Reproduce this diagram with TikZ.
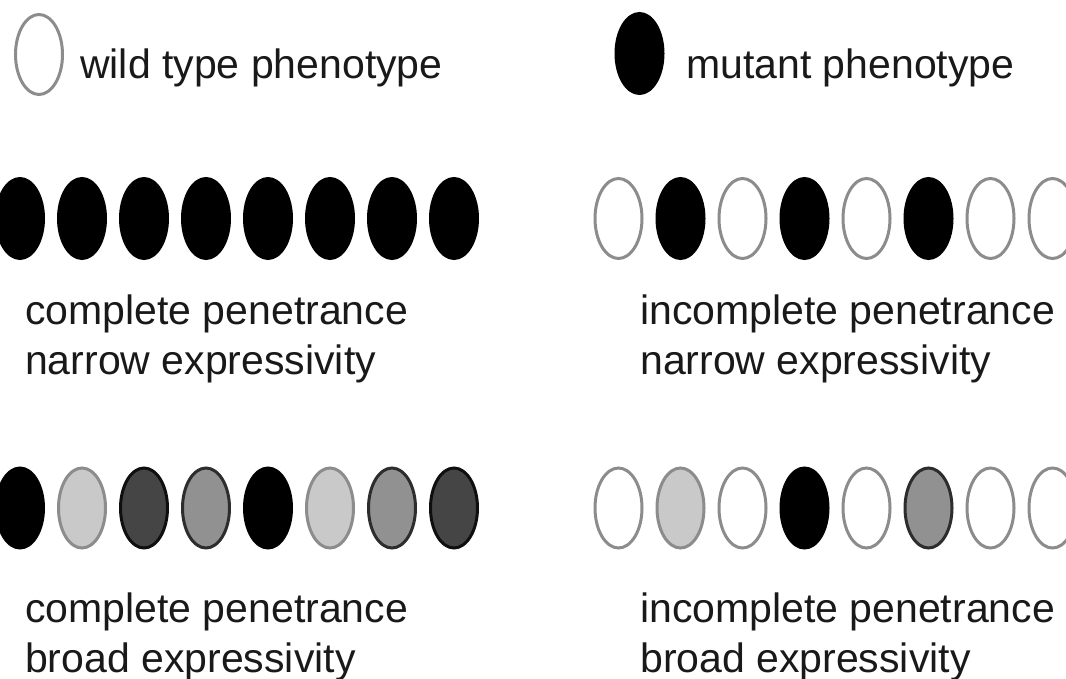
\documentclass[tikz,border=0pt]{standalone}
\usepackage{fontspec}
\setmainfont{Liberation Sans}
\definecolor{rim}{gray}{0.55}
\definecolor{lightfill}{gray}{0.79}
\definecolor{midfill}{gray}{0.57}
\definecolor{darkfill}{gray}{0.27}
\begin{document}
\begin{tikzpicture}[
        x={(1pt,0pt)},
        y={(0pt,-1pt)},
        % 椭圆样式
        pheno/.style={line width=3pt},
        wt/.style={pheno,draw=rim,fill=white},
        mt/.style={pheno,draw=black,fill=black},
        lt/.style={pheno,draw=rim,fill=lightfill},
        md/.style={pheno,draw=gray!35!black,fill=midfill},
        dk/.style={pheno,draw=gray!12!black,fill=darkfill},
        % 文字样式
        lbl/.style={anchor=base west,inner sep=0pt,align=left,
            font=\fontsize{41}{50}\selectfont,text=black!90},
    ]
    \useasboundingbox (0,0) rectangle (1066,679);

    \def\rx{23.5pt}                  % 椭圆横半径
    \def\ry{40pt}                    % 椭圆纵半径

    % 图例
    \draw[wt] (39,54.5) ellipse [x radius=\rx, y radius=\ry];
    \draw[mt] (639.5,53.5) ellipse [x radius=\rx, y radius=\ry];
    \node[lbl] (wildtxt) at (80,79) {wild type phenotype};
    \node[lbl] (muttxt) at (686,79) {mutant phenotype};

    % 第一行
    \foreach \s [count=\i from 0] in {mt,mt,mt,mt,mt,mt,mt,mt}
        \draw[\s] ({20+62*\i},218.5) ellipse [x radius=\rx, y radius=\ry];
    \foreach \s [count=\i from 0] in {wt,mt,wt,mt,wt,mt,wt,wt}
        \draw[\s] ({618.5+62*\i},218.5) ellipse [x radius=\rx, y radius=\ry];
    % 锚点在第二行文字的基线
    \node[lbl] (cpnarrow) at (25,374) {complete penetrance\\narrow expressivity};
    \node[lbl] (ipnarrow) at (640,374) {incomplete penetrance\\narrow expressivity};

    % 第二行
    \foreach \s [count=\i from 0] in {mt,lt,dk,md,mt,lt,md,dk}
        \draw[\s] ({20+62*\i},508) ellipse [x radius=\rx, y radius=\ry];
    \foreach \s [count=\i from 0] in {wt,lt,wt,mt,wt,md,wt,wt}
        \draw[\s] ({618.5+62*\i},508) ellipse [x radius=\rx, y radius=\ry];
    \node[lbl] (cpbroad) at (25,672) {complete penetrance\\broad expressivity};
    \node[lbl] (ipbroad) at (640,672) {incomplete penetrance\\broad expressivity};
\end{tikzpicture}
\end{document}
